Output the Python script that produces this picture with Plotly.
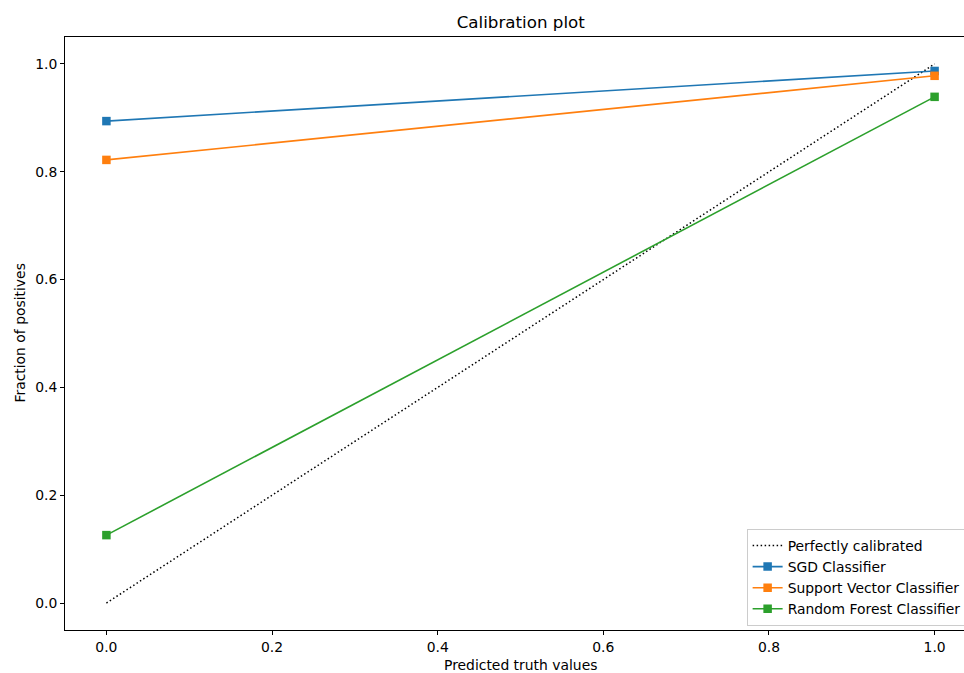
import plotly.graph_objects as go

# Data
x_pred = [0.0, 1.0]
perfect = [0.0, 1.0]
sgd = [0.894, 0.987]
svc = [0.822, 0.978]
rf = [0.126, 0.939]

names = ["Perfectly calibrated", "SGD Classifier", "Support Vector Classifier", "Random Forest Classifier"]
colors = ["#1f77b4", "#ff7f0e", "#2ca02c"]

W, H = 1000, 673
ml, mt, mb = 65, 37, 43
plot_right = 976.5
mr = W - plot_right

fig = go.Figure()
fig.add_trace(go.Scatter(x=x_pred, y=perfect, mode="lines", name=names[0],
                         line=dict(color="black", width=1.5, dash="1.5px,2.5px")))
for vals, nm, c in zip([sgd, svc, rf], names[1:], colors):
    fig.add_trace(go.Scatter(x=x_pred, y=vals, mode="lines+markers", name=nm,
                             line=dict(color=c, width=1.6),
                             marker=dict(symbol="square", size=8.5, color=c)))

font = dict(family="DejaVu Sans", size=13.9, color="black")
axis_common = dict(showgrid=False, zeroline=False, showline=True, linecolor="black",
                   linewidth=1, mirror=True, ticks="outside", ticklen=4,
                   tickcolor="black", tickfont=font)

fig.update_layout(
    width=W, height=H,
    margin=dict(l=ml, r=mr, t=mt, b=mb, autoexpand=False),
    paper_bgcolor="white", plot_bgcolor="white",
    font=font,
    title=dict(text="Calibration plot", x=(ml + plot_right) / 2 / W, xanchor="center",
               y=1 - 22 / H, yanchor="middle", font=dict(family="DejaVu Sans", size=16.7, color="black")),
    xaxis=dict(range=[-0.05, 1.05], tickvals=[0, 0.2, 0.4, 0.6, 0.8, 1.0],
               ticktext=["0.0", "0.2", "0.4", "0.6", "0.8", "1.0"], **axis_common),
    yaxis=dict(range=[-0.05, 1.05], tickvals=[0, 0.2, 0.4, 0.6, 0.8, 1.0],
               ticktext=["0.0", "0.2", "0.4", "0.6", "0.8", "1.0"], **axis_common),
    legend=dict(x=(747 - ml) / (plot_right - ml), y=4 / (H - mt - mb), xanchor="left", yanchor="bottom",
                bgcolor="white", bordercolor="#cccccc", borderwidth=1,
                font=dict(family="DejaVu Sans", size=13.9, color="black"),
                tracegroupgap=0, itemwidth=30),
    showlegend=True,
    annotations=[
        dict(text="Predicted truth values", xref="paper", yref="paper",
             x=0.5, y=-(665 - 630) / (H - mt - mb), xanchor="center", yanchor="middle",
             showarrow=False, font=font),
        dict(text="Fraction of positives", xref="paper", yref="paper",
             x=-(ml - 19) / (plot_right - ml), y=0.5, xanchor="center", yanchor="middle",
             textangle=-90, showarrow=False, font=font),
    ],
)

fig.write_html("out.html", config={"displayModeBar": False},
               post_script="document.body.style.margin='0';document.body.style.overflow='hidden';document.documentElement.style.overflow='hidden';")
